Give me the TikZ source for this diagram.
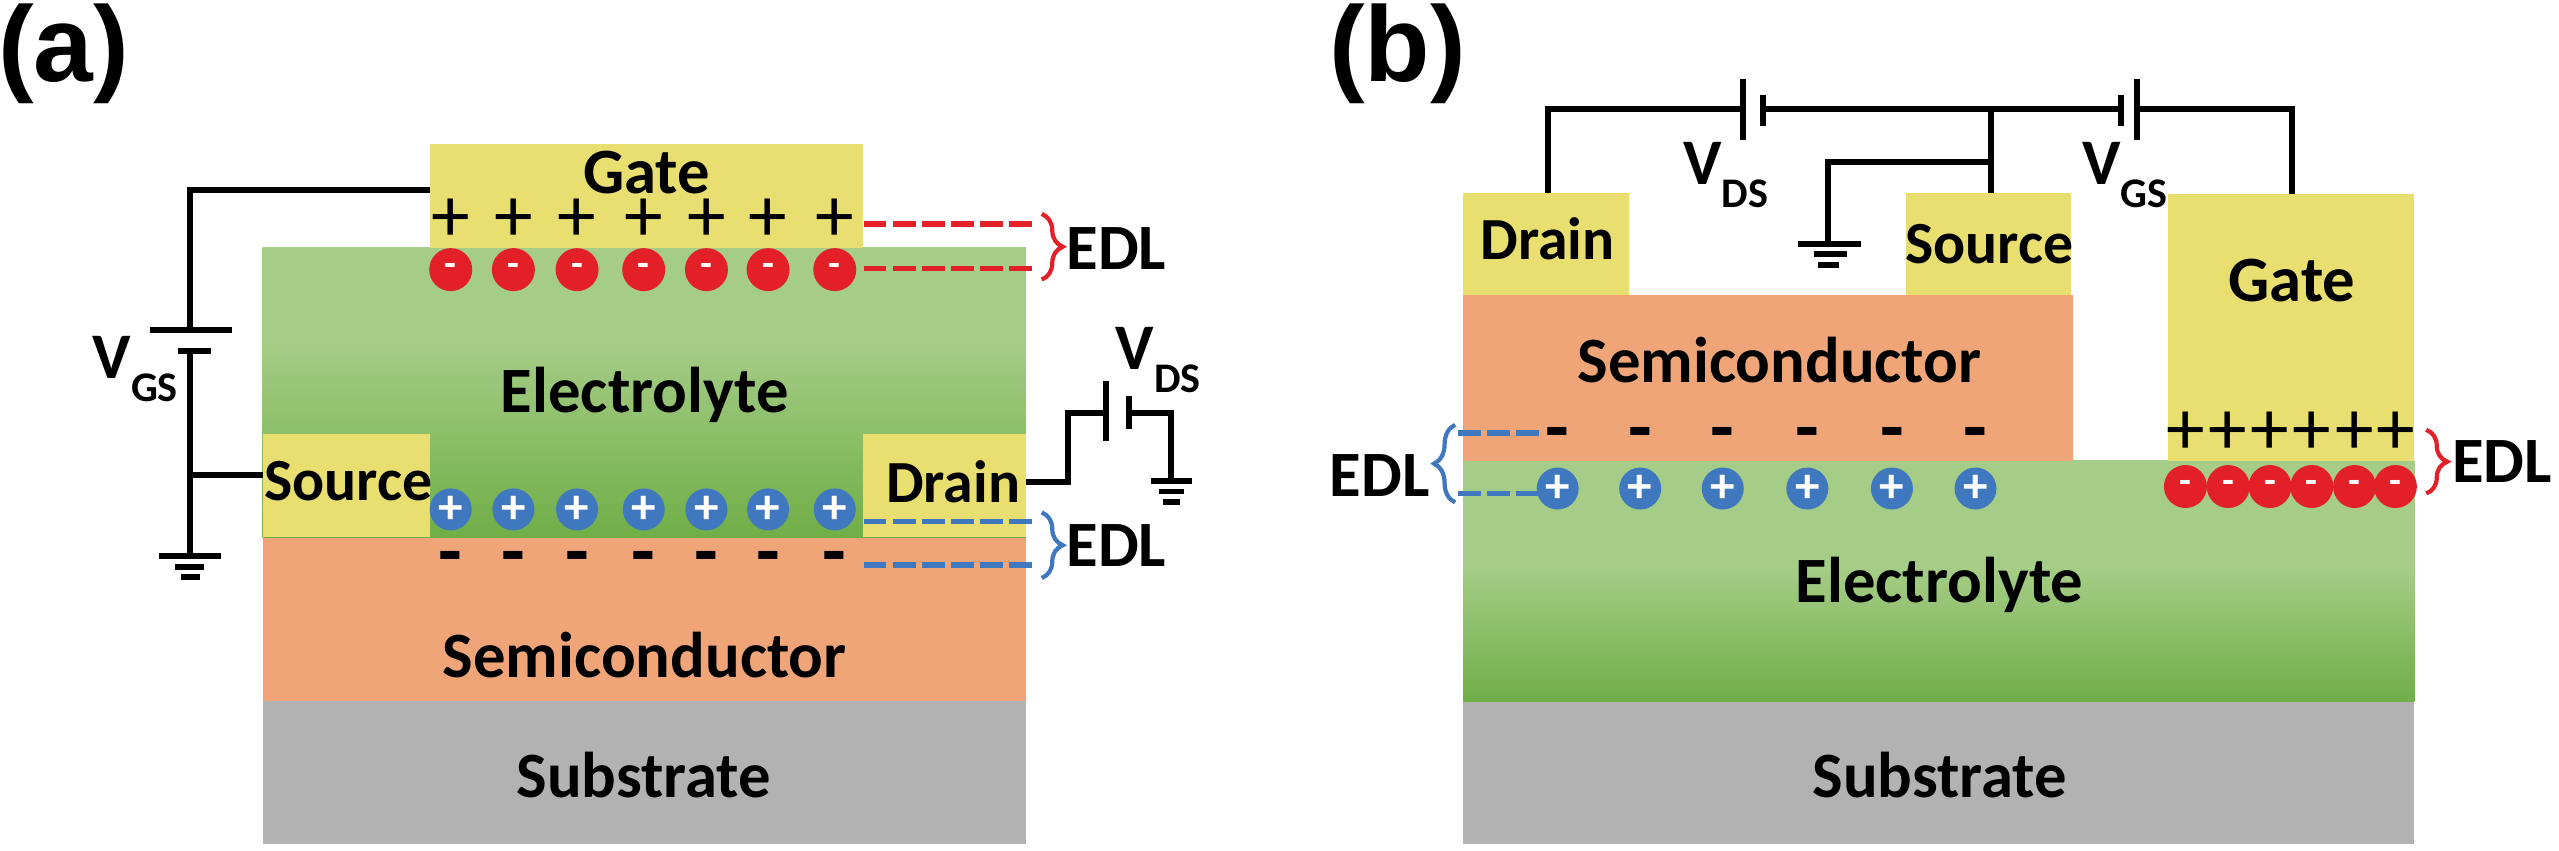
\documentclass[tikz,border=0pt]{standalone}
\usepackage{fontspec}
\setmainfont{Carlito}
\newfontfamily\panelfont{Liberation Sans}
\usetikzlibrary{decorations.pathreplacing}
\definecolor{metalyellow}{RGB}{232,223,112}
\definecolor{semiorange}{RGB}{240,165,121}
\definecolor{subgray}{RGB}{178,178,178}
\definecolor{lightgreen}{RGB}{166,205,135}
\definecolor{darkgreen}{RGB}{112,174,71}
\definecolor{chargered}{RGB}{227,32,40}
\definecolor{chargeblue}{RGB}{63,120,190}
\pgfdeclareverticalshading{fadea}{100bp}{color(0bp)=(darkgreen); color(25bp)=(darkgreen); color(59bp)=(lightgreen); color(100bp)=(lightgreen)}
\pgfdeclareverticalshading{fadeb}{100bp}{color(0bp)=(darkgreen); color(25bp)=(darkgreen); color(53bp)=(lightgreen); color(100bp)=(lightgreen)}
\newcommand{\volt}[1]{V\raisebox{-0.36em}{\fontsize{12}{12}\selectfont #1}}
\tikzset{
  layertext/.style={font=\bfseries\fontsize{18.4}{20}\selectfont, inner sep=0pt},
  contacttext/.style={font=\bfseries\fontsize{17}{20}\selectfont, inner sep=0pt},
  edltext/.style={font=\bfseries\fontsize{18.4}{20}\selectfont, inner sep=0pt},
  volttext/.style={font=\bfseries\fontsize{18.5}{20}\selectfont, inner sep=0pt},
  paneltext/.style={font=\panelfont\bfseries\fontsize{30.5}{32}\selectfont, inner sep=0pt},
  wire/.style={line width=1.7pt},
  edlred/.style={line width=1.6pt, draw=chargered, dash pattern=on 6.5pt off 1.8pt},
  edlblue/.style={line width=1.6pt, draw=chargeblue, dash pattern=on 6.5pt off 1.8pt},
  bracered/.style={line width=1.2pt, draw=chargered, decorate, decoration={brace, amplitude=6pt}},
  braceblue/.style={line width=1.2pt, draw=chargeblue, decorate, decoration={brace, amplitude=6pt}},
  anion/.style={circle, fill=chargered, minimum size=0.43cm, inner sep=0pt, text=white, font=\bfseries\fontsize{11}{11}\selectfont},
  cation/.style={circle, fill=chargeblue, minimum size=0.42cm, inner sep=0pt, text=white, font=\bfseries\fontsize{14}{14}\selectfont},
  holesign/.style={inner sep=0pt, font=\fontsize{22}{22}\selectfont},
  elecsign/.style={inner sep=0pt, font=\bfseries\fontsize{22}{22}\selectfont},
}
\begin{document}
\begin{tikzpicture}[x=0.00995cm, y=-0.00995cm]
    \useasboundingbox (0,0) rectangle (2572,855.3);
    % panel a
    \fill [subgray] (264,705) rectangle (1031,848);
    \fill [semiorange] (264,540) rectangle (1031,705);
    \shade [shading=fadea] (264,249) rectangle (1031,540);
    \fill [metalyellow] (432,145) rectangle (867,249);
    \fill [metalyellow] (264,436) rectangle (432,540);
    \fill [metalyellow] (867,436) rectangle (1031,540);
    \node [paneltext] (labela) at (64,54) {(a)};
    \node [layertext] (gatea) at (650,173) {Gate};
    \node [layertext] (electrolytea) at (648,397) {Electrolyte};
    \node [layertext] (semia) at (648,658) {Semiconductor};
    \node [layertext] (substratea) at (647,779) {Substrate};
    \node [contacttext] (sourcea) at (350,484) {Source};
    \node [contacttext] (draina) at (958,484) {Drain};
    \foreach \x [count=\i] in {453,516,580,647,710,772,839} {
      \node [holesign] (posa\i) at (\x,221) {+};
      \node [anion] (nega\i) at (\x,271) {-};
      \node [cation] (cata\i) at (\x,512) {+};
      \node [elecsign] (eleca\i) at (\x,567) {-};
    }
    % edl marks of panel a
    \coordinate (ra1) at (868,225);
    \coordinate (ra2) at (1040,225);
    \coordinate (ra3) at (868,270);
    \coordinate (ra4) at (1040,270);
    \coordinate (ba1) at (868,524);
    \coordinate (ba2) at (1040,524);
    \coordinate (ba3) at (868,568);
    \coordinate (ba4) at (1040,568);
    \draw [edlred] (ra1) -- (ra2);
    \draw [edlred] (ra3) -- (ra4);
    \draw [edlblue] (ba1) -- (ba2);
    \draw [edlblue] (ba3) -- (ba4);
    \coordinate (bra1) at (1047,215);
    \coordinate (bra2) at (1047,281);
    \coordinate (bra3) at (1047,515);
    \coordinate (bra4) at (1047,581);
    \draw [bracered] (bra1) -- (bra2);
    \draw [braceblue] (bra3) -- (bra4);
    \node [edltext] (edla1) at (1122,250) {EDL};
    \node [edltext] (edla2) at (1122,548) {EDL};
    % circuit of panel a
    \coordinate (gw) at (432,191);
    \coordinate (c1) at (191,191);
    \coordinate (c2) at (191,332);
    \coordinate (c3) at (191,353);
    \coordinate (c4) at (191,559);
    \coordinate (c5) at (191,477);
    \coordinate (sw) at (264,477);
    \draw [wire] (gw) -- (c1) -- (c2);
    \draw [wire] (c3) -- (c4);
    \draw [wire] (c5) -- (sw);
    \draw [wire] (151,332) -- (233,332);
    \draw [wire] (179,353) -- (212,353);
    \draw [wire] (160,559) -- (222,559);
    \draw [wire] (176,570) -- (205,570);
    \draw [wire] (182,580) -- (201,580);
    \node [volttext] (vgsa) at (136,371) {\volt{GS}};
    \coordinate (dw) at (1031,484);
    \coordinate (d1) at (1073,484);
    \coordinate (d2) at (1073,415);
    \coordinate (d3) at (1112,415);
    \coordinate (d4) at (1135,415);
    \coordinate (d5) at (1177,415);
    \coordinate (d6) at (1177,483);
    \draw [wire] (dw) -- (d1) -- (d2) -- (d3);
    \draw [wire] (d4) -- (d5) -- (d6);
    \draw [wire] (1112,383) -- (1112,443);
    \draw [wire] (1135,398) -- (1135,431);
    \draw [wire] (1157,483) -- (1198,483);
    \draw [wire] (1165,494) -- (1190,494);
    \draw [wire] (1169,505) -- (1186,505);
    \node [volttext] (vdsa) at (1164,362) {\volt{DS}};
    % panel b
    \begin{scope}[xshift=0.065cm]
    \fill [subgray] (1464,705) rectangle (2420,848);
    \shade [shading=fadeb] (1464,463) rectangle (2420,705);
    \fill [semiorange] (1464,297) rectangle (2077,463);
    \fill [metalyellow] (1464,194) rectangle (1631,297);
    \fill [metalyellow] (1909,194) rectangle (2075,297);
    \fill [metalyellow] (2172,195) rectangle (2420,463);
    \node [paneltext] (labelb) at (1398,54) {(b)};
    \node [contacttext] (drainb) at (1549,240) {Drain};
    \node [contacttext] (sourceb) at (1993,245) {Source};
    \node [layertext] (gateb) at (2297,282) {Gate};
    \node [layertext] (semib) at (1782,362) {Semiconductor};
    \node [layertext] (electrolyteb) at (1943,588) {Electrolyte};
    \node [layertext] (substrateb) at (1943,779) {Substrate};
    \foreach \x [count=\i] in {1559,1642,1725,1810,1895,1979} {
      \node [elecsign] (elecb\i) at (\x,443) {-};
      \node [cation] (catb\i) at (\x,491) {+};
    }
    \foreach \x [count=\i] in {2190,2233,2275,2317,2360,2401} {
      \node [holesign] (posb\i) at (\x,435) {+};
      \node [anion] (negb\i) at (\x,489) {-};
    }
    % edl marks of panel b
    \coordinate (bb1) at (1459,435);
    \coordinate (bb2) at (1541,435);
    \coordinate (bb3) at (1459,496);
    \coordinate (bb4) at (1541,496);
    \draw [edlblue] (bb1) -- (bb2);
    \draw [edlblue] (bb3) -- (bb4);
    \coordinate (brb1) at (1456,505);
    \coordinate (brb2) at (1456,427);
    \coordinate (brb3) at (2432,432);
    \coordinate (brb4) at (2432,496);
    \draw [braceblue] (brb1) -- (brb2);
    \draw [bracered] (brb3) -- (brb4);
    \node [edltext] (edlb1) at (1380,478) {EDL};
    \node [edltext] (edlb2) at (2508,464) {EDL};
    % circuit of panel b
    \coordinate (dt) at (1549,194);
    \coordinate (e1) at (1549,110);
    \coordinate (e2) at (1745,110);
    \coordinate (e3) at (1765,110);
    \coordinate (e4) at (1995,110);
    \coordinate (e5) at (2125,110);
    \coordinate (e6) at (2141,110);
    \coordinate (e7) at (2297,110);
    \coordinate (gt) at (2297,195);
    \coordinate (st) at (1995,194);
    \coordinate (e8) at (1995,163);
    \coordinate (e9) at (1831,163);
    \coordinate (e10) at (1831,245);
    \draw [wire] (dt) -- (e1) -- (e2);
    \draw [wire] (e3) -- (e5);
    \draw [wire] (e6) -- (e7) -- (gt);
    \draw [wire] (e4) -- (st);
    \draw [wire] (e8) -- (e9) -- (e10);
    \draw [wire] (1745,79) -- (1745,141);
    \draw [wire] (1765,95) -- (1765,127);
    \draw [wire] (2125,95) -- (2125,127);
    \draw [wire] (2141,79) -- (2141,141);
    \draw [wire] (1801,245) -- (1864,245);
    \draw [wire] (1817,255) -- (1850,255);
    \draw [wire] (1821,266) -- (1842,266);
    \node [volttext] (vdsb) at (1728,176) {\volt{DS}};
    \node [volttext] (vgsb) at (2129,176) {\volt{GS}};
    \end{scope}
\end{tikzpicture}
\end{document}
